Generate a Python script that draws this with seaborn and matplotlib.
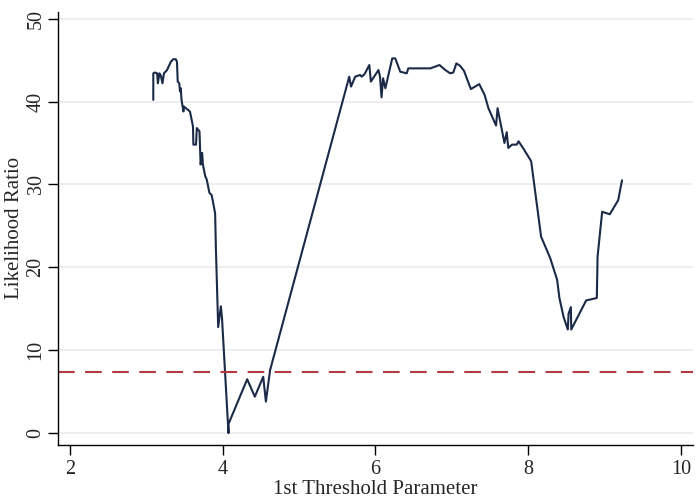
import pandas as pd
import seaborn as sns
import matplotlib.pyplot as plt

# threshold grid and LR statistic
threshold = [3.09, 3.09, 3.11, 3.14, 3.15, 3.17, 3.19, 3.21, 3.23, 3.27,
             3.30, 3.32, 3.35, 3.385, 3.40, 3.41, 3.43, 3.44, 3.45, 3.46,
             3.47, 3.485, 3.49, 3.57, 3.61, 3.615, 3.65, 3.66, 3.695, 3.71,
             3.73, 3.74, 3.77, 3.79, 3.825, 3.855, 3.88, 3.90, 3.91, 3.94,
             3.975, 3.99, 4.075, 4.075, 4.32, 4.42, 4.53, 4.565, 4.62, 5.657,
             5.68, 5.735, 5.80, 5.82, 5.857, 5.92, 5.94, 6.04, 6.06, 6.08,
             6.10, 6.13, 6.22, 6.26, 6.325, 6.41, 6.43, 6.72, 6.84, 6.915,
             6.98, 7.02, 7.06, 7.11, 7.16, 7.25, 7.36, 7.43, 7.48, 7.58,
             7.60, 7.69, 7.72, 7.74, 7.79, 7.85, 7.875, 7.94, 8.04, 8.17,
             8.29, 8.38, 8.41, 8.465, 8.52, 8.53, 8.56, 8.565, 8.76, 8.90,
             8.91, 8.97, 9.07, 9.18, 9.23]
lr_stat = [40.2, 43.4, 43.5, 43.4, 42.2, 43.4, 43.1, 42.2, 43.4, 43.8,
           44.4, 44.8, 45.1, 45.1, 44.8, 42.4, 42.2, 41.2, 41.6, 40.2,
           39.6, 38.8, 39.4, 38.8, 37.0, 34.8, 34.8, 36.8, 36.4, 32.4,
           33.8, 32.4, 31.0, 30.6, 29.0, 28.7, 27.5, 26.5, 22.3, 12.8,
           15.3, 13.9, 0.0, 1.1, 6.5, 4.4, 6.8, 3.8, 7.6, 43.0,
           41.8, 43.0, 43.2, 43.0, 43.3, 44.4, 42.4, 43.8, 43.0, 40.5,
           42.8, 41.6, 45.2, 45.2, 43.6, 43.4, 44.0, 44.0, 44.4, 43.8,
           43.4, 43.5, 44.6, 44.3, 43.7, 41.5, 42.1, 40.8, 39.2, 37.1,
           39.2, 35.0, 36.3, 34.4, 34.8, 34.8, 35.2, 34.3, 32.8, 23.7,
           21.1, 18.5, 16.3, 14.0, 12.5, 14.4, 15.2, 12.5, 16.0, 16.3,
           21.3, 26.7, 26.4, 28.1, 30.5]
critical_value = 7.35

df = pd.DataFrame({"threshold": threshold, "lr": lr_stat})

sns.set_style("white")
plt.rcParams["font.family"] = ["Liberation Serif", "DejaVu Serif"]

fig = plt.figure(figsize=(7, 5.03), dpi=100)
ax = fig.add_axes([0.083, 0.115, 0.907, 0.862])

sns.lineplot(data=df, x="threshold", y="lr", sort=False, estimator=None,
             color="#1b2a47", linewidth=1.5, ax=ax)
ax.axhline(critical_value, color="#b23a42", linestyle=(0, (8, 5)), linewidth=1.5)

ax.set_xlim(1.843, 10.16)
ax.set_ylim(-1.45, 50.85)
ax.set_xticks([2, 4, 6, 8, 10])
ax.set_yticks([0, 10, 20, 30, 40, 50])
ax.yaxis.grid(True, color="#ebebf0", linewidth=1.2)
ax.set_axisbelow(True)

for s in ["top", "right"]:
    ax.spines[s].set_visible(False)
for s in ["left", "bottom"]:
    ax.spines[s].set_color("black")
    ax.spines[s].set_linewidth(1.0)

ax.tick_params(axis="both", direction="out", length=7, width=1.0,
               color="black", labelsize=14.5, bottom=True, left=True)
ax.tick_params(axis="y", pad=2)
plt.setp(ax.get_yticklabels(), rotation=90, va="center")

ax.set_xlabel("1st Threshold Parameter", fontsize=15, labelpad=1)
ax.set_ylabel("Likelihood Ratio", fontsize=15, labelpad=2)

fig.savefig("out.png", dpi=100)
